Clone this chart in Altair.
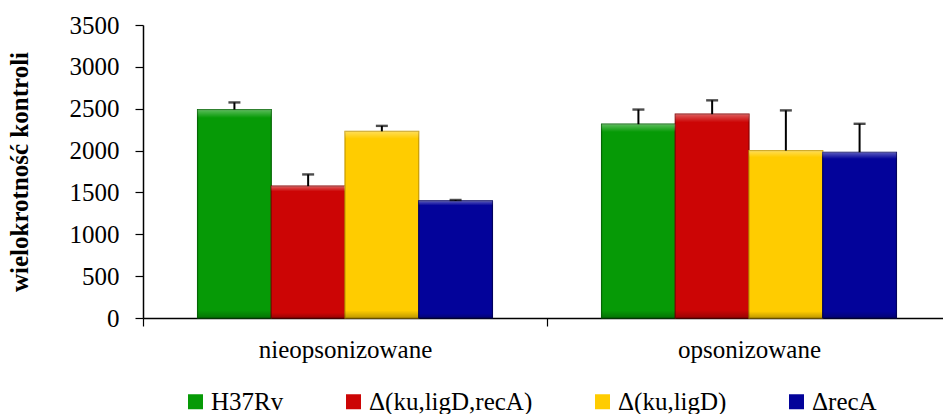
import altair as alt
import pandas as pd

groups = ["nieopsonizowane", "opsonizowane"]
series = ["H37Rv", "Δ(ku,ligD,recA)", "Δ(ku,ligD)", "ΔrecA"]
values_nieops = [2490, 1575, 2230, 1400]
errors_nieops = [85, 140, 65, 10]
values_ops = [2315, 2435, 2000, 1980]
errors_ops = [175, 165, 480, 340]
colors = ["#069A06", "#CC0505", "#FFCC00", "#03039A"]
strokes = ["#046604", "#8A0303", "#C79A00", "#02025E"]

rows = []
for g, vals, errs in [(groups[0], values_nieops, errors_nieops), (groups[1], values_ops, errors_ops)]:
    for s, v, e in zip(series, vals, errs):
        rows.append({"grupa": g, "szczep": s, "wartosc": v, "gora": v + e})
df = pd.DataFrame(rows)

FONT = "Liberation Serif"

x = alt.X("grupa:N", sort=groups, title=None,
          scale=alt.Scale(range=[0, 808], paddingInner=0, paddingOuter=0),
          axis=alt.Axis(labelAngle=0, labelPadding=11, tickBand="extent"))
xo = alt.XOffset("szczep:N", sort=series, scale=alt.Scale(paddingInner=0, paddingOuter=0.74))
y = alt.Y("wartosc:Q", title="wielokrotność kontroli",
          scale=alt.Scale(domain=[0, 3500], nice=False),
          axis=alt.Axis(values=list(range(0, 3501, 500)), grid=False, format="d",
                        labelPadding=16, titlePadding=37))

base = alt.Chart(df)

bars = base.mark_bar(strokeWidth=1.2).encode(
    x=x, xOffset=xo, y=y,
    color=alt.Color("szczep:N", sort=series, scale=alt.Scale(domain=series, range=colors),
                    legend=alt.Legend(title=None, orient="none", direction="horizontal", columns=4,
                                      legendX=40, legendY=364, padding=0,
                                      symbolType="square", symbolSize=225, symbolStrokeWidth=0,
                                      symbolOpacity=1, labelOffset=3, columnPadding=57)),
    stroke=alt.Stroke("szczep:N", sort=series, scale=alt.Scale(domain=series, range=strokes),
                      legend=None),
)

shade = base.mark_bar(
    fill=alt.Gradient(gradient="linear", x1=0, y1=0, x2=0, y2=1,
                      stops=[alt.GradientStop(color="rgba(255,255,255,0.35)", offset=0),
                             alt.GradientStop(color="rgba(255,255,255,0.0)", offset=0.04),
                             alt.GradientStop(color="rgba(0,0,0,0.0)", offset=0.96),
                             alt.GradientStop(color="rgba(0,0,0,0.25)", offset=1)])
).encode(x=x, xOffset=xo, y=y)

err = base.mark_rule(color="black", strokeWidth=2).encode(
    x=x, xOffset=xo, y=alt.Y("wartosc:Q"), y2=alt.Y2("gora:Q"))
caps = base.mark_tick(color="black", thickness=2.4, size=12).encode(
    x=x, xOffset=xo, y=alt.Y("gora:Q"))

chart = alt.layer(bars, shade, err, caps).properties(
    width=800, height=293,
    padding={"left": 143, "top": 25, "right": 0, "bottom": 96},
    autosize=alt.AutoSizeParams(type="none"),
    background="white",
).configure(font=FONT).configure_view(stroke=None).configure_axis(
    labelFont=FONT, labelFontSize=25, labelColor="black",
    titleFont=FONT, titleFontSize=25, titleFontWeight="bold", titleColor="black",
    domainColor="black", domainWidth=1.5, tickColor="black", tickSize=8, tickWidth=1.2,
).configure_legend(
    labelFont=FONT, labelFontSize=25, labelColor="black", labelLimit=400,
)

chart.save("out.html", embed_options={"renderer": "svg", "actions": False})
